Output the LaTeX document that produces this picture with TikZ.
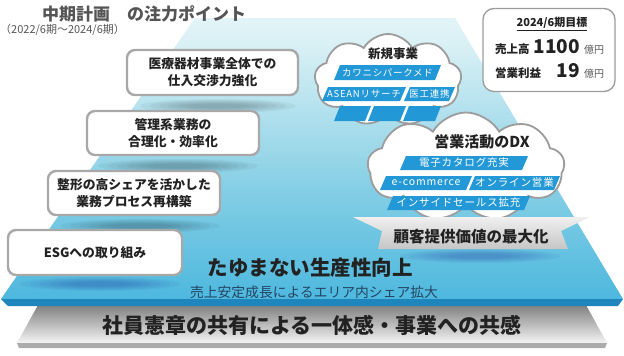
\documentclass[tikz,border=0pt]{standalone}
\usepackage{fontspec}
\setmainfont{Noto Sans CJK JP}
\usetikzlibrary{shapes.symbols}
\definecolor{pyrB}{HTML}{3AB0DC}
\definecolor{pyrM}{HTML}{86CFE5}
\definecolor{pyrL}{HTML}{D8F0F5}
\definecolor{slabfront}{HTML}{1F86BD}
\definecolor{barblue}{HTML}{2398D7}
\definecolor{textdark}{HTML}{222222}
\definecolor{boxgray}{HTML}{A8A8A8}
\definecolor{cloudgray}{HTML}{9C9C9C}
\definecolor{titlegray}{HTML}{555555}
\definecolor{gtop}{HTML}{808080}
\definecolor{gbot}{HTML}{F4F4F4}
\definecolor{subblue}{HTML}{234563}
\pgfdeclareverticalshading{pyrshade}{100bp}{color(0bp)=(pyrB); color(18bp)=(pyrB); color(45bp)=(pyrM); color(70bp)=(pyrL); color(88bp)=(white); color(100bp)=(white)}
\newcommand{\mybar}[7]{%
  \fill[barblue] ({#2+3},#3) -- ({#4+3},#3) -- ({#4-3},#5) -- ({#2-3},#5) -- cycle;
  \node[bartext,font=\fontsize{#7}{#7}\selectfont\addfontfeature{LetterSpace=8}] (#1) at ({(#2+#4)/2},{(#3+#5)/2}) {#6};}
\newcommand{\softshadow}[5]{%
  \foreach \k in {0,...,5}{\fill[#5,opacity=0.045] (#1,#2) ellipse ({#3*(1-\k*0.12)} and {#4*(1-\k*0.13)});}}
\begin{document}
\begin{tikzpicture}[x=1pt,y=-1pt,
  lbox/.style={draw=boxgray, line width=2.4pt, rounded corners=8pt, fill=white, align=center,
    font=\fontsize{12.8}{17}\selectfont\bfseries, text=textdark, inner sep=0pt},
  bartext/.style={text=white, inner sep=0pt},
  cloudnode/.style={cloud, cloud puffs=9, cloud puff arc=120, draw=cloudgray, line width=1.8pt, fill=white, inner sep=0pt}
]
\useasboundingbox (0,0) rectangle (624,356);
% pyramid top face
\shade[shading=pyrshade] (195,18) -- (455,18) -- (623,299) -- (1,299) -- cycle;
% gray slab
\shade[top color=gtop, bottom color=gbot] (38,305) -- (586,305) -- (607,343) -- (17,343) -- cycle;
\fill[gray!65] (17,343) -- (607,343) -- (605,348) -- (19,348) -- cycle;
% blue slab front
\fill[slabfront] (1,299) -- (623,299) -- (618,306) -- (8,306) -- cycle;
% shadows
\softshadow{218}{106}{78}{7}{black}
\softshadow{178}{166}{80}{7}{black}
\softshadow{140}{226}{80}{7}{black}
\softshadow{100}{284}{80}{7}{blue!50!black}
\softshadow{480}{256}{80}{7}{blue!50!black}
% left boxes
\node[lbox, minimum width=171pt, minimum height=45pt] (b1) at (212.5,72.5) {医療器材事業全体での\\仕入交渉力強化};
\node[lbox, minimum width=172pt, minimum height=44pt] (b2) at (173,133) {管理系業務の\\合理化・効率化};
\node[lbox, minimum width=172pt, minimum height=44pt] (b3) at (134,193) {整形の高シェアを活かした\\業務プロセス再構築};
\node[lbox, minimum width=174pt, minimum height=45pt] (b4) at (95,252.5) {ESGへの取り組み};
% base texts
\node[font=\fontsize{20.5}{21}\selectfont\bfseries, text=textdark] (prod) at (310,268) {たゆまない生産性向上};
\node[font=\fontsize{13.8}{14}\selectfont, text=subblue] (share) at (314,292) {売上安定成長によるエリア内シェア拡大};
\node[font=\fontsize{21}{21}\selectfont\bfseries, text=textdark] (base) at (312,325) {社員憲章の共有による一体感・事業への共感};
% clouds
\node[cloudnode, minimum width=147pt, minimum height=92pt] (c1) at (388,80) {};
\node[cloudnode, minimum width=197pt, minimum height=109pt] (c2) at (466,167) {};
\node[font=\fontsize{12.5}{13}\selectfont\bfseries, text=textdark] (c1t) at (393,54) {新規事業};
\mybar{k1}{337}{65}{438}{80}{カワニシパークメド}{9.5}
\mybar{k2}{325}{87}{403}{101}{ASEANリサーチ}{9.5}
\mybar{k3}{407}{87}{452}{101}{医工連携}{9.5}
\mybar{k4}{337}{106}{368}{121}{}{9.5}
\mybar{k5}{371}{106}{403}{121}{}{9.5}
\mybar{k6}{406}{106}{438}{121}{}{9.5}
\node[font=\fontsize{15}{15}\selectfont\bfseries, text=textdark] (c2t) at (482,142) {営業活動のDX};
\mybar{d1}{403}{156}{525}{170}{電子カタログ充実}{10.5}
\mybar{d2}{383}{176}{469}{190}{e-commerce}{10.5}
\mybar{d3}{472}{176}{557}{190}{オンライン営業}{10.5}
\mybar{d4}{390}{196}{527}{210}{インサイドセールス拡充}{10.5}
% banner
\shade[top color=gray!12, bottom color=gray!45] (353,217) -- (590,217) -- (561,231) -- (568,249) -- (378,249) -- (382,231) -- cycle;
\node[font=\fontsize{15.5}{16}\selectfont\bfseries, text=textdark] (ban) at (471,237) {顧客提供価値の最大化};
% target box
\node[draw=cloudgray, line width=1.3pt, rounded corners=11pt, fill=white, minimum width=132pt, minimum height=83pt] (tgt) at (549,50) {};
\node[font=\fontsize{11}{12}\selectfont\bfseries, text=textdark] (tgth) at (552,24) {\underline{2024/6期目標}};
\node[anchor=west, inner sep=0pt, font=\fontsize{11.5}{12}\selectfont\bfseries, text=textdark] (s1) at (495,49) {売上高};
\node[anchor=east, inner sep=0pt, font=\fontsize{19}{19}\selectfont\bfseries, text=textdark] (s1n) at (580,47) {1100};
\node[anchor=west, inner sep=0pt, font=\fontsize{10}{10}\selectfont, text=titlegray] (s1u) at (584,50) {億円};
\node[anchor=west, inner sep=0pt, font=\fontsize{11.5}{12}\selectfont\bfseries, text=textdark] (s2) at (495,73) {営業利益};
\node[anchor=east, inner sep=0pt, font=\fontsize{19}{19}\selectfont\bfseries, text=textdark] (s2n) at (580,71) {19};
\node[anchor=west, inner sep=0pt, font=\fontsize{10}{10}\selectfont, text=titlegray] (s2u) at (584,74) {億円};
% titles
\node[anchor=west, inner sep=0pt, font=\fontsize{17}{17}\selectfont\bfseries, text=titlegray] (title) at (42,14) {中期計画　の注力ポイント};
\node[anchor=west, inner sep=0pt, font=\fontsize{11}{11}\selectfont, text=titlegray] (sub) at (0,30) {（2022/6期～2024/6期）};
\end{tikzpicture}
\end{document}
